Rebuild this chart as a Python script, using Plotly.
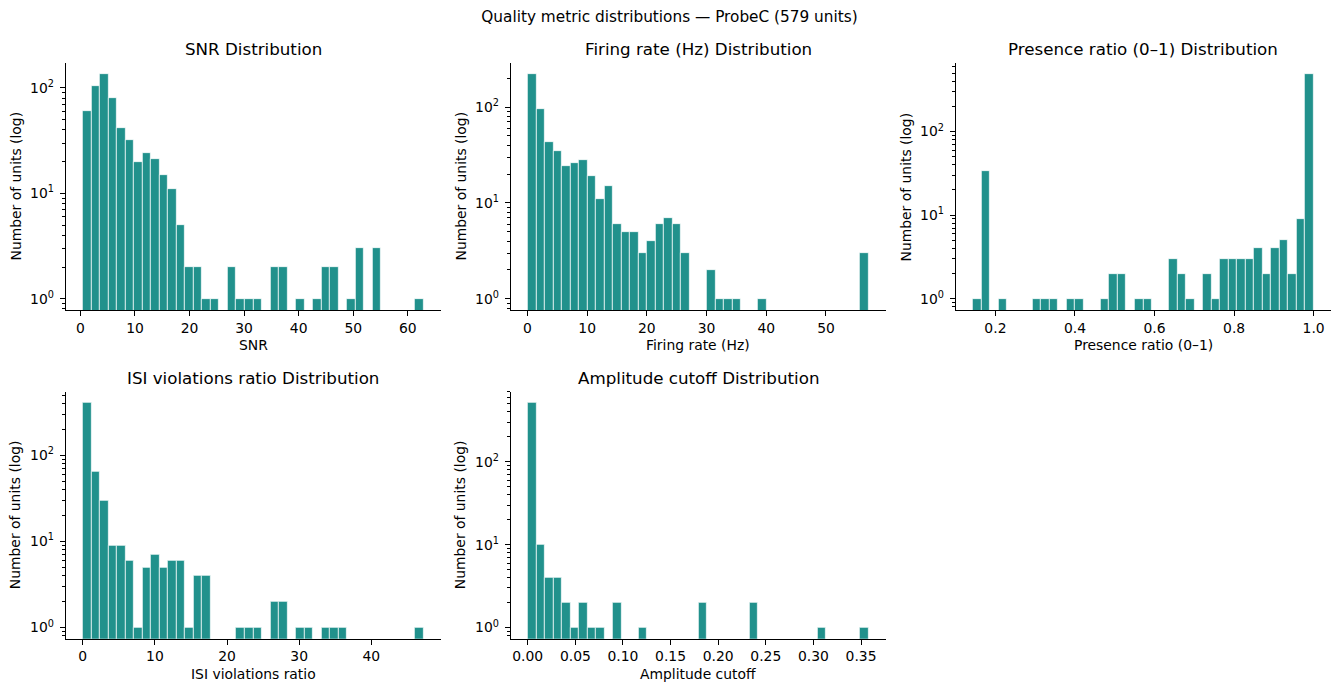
import numpy as np
import plotly.graph_objects as go

# ---------------- data ----------------
SUPTITLE = "Quality metric distributions — ProbeC (579 units)"
Y_LABEL = "Number of units (log)"

snr_label = "SNR"
snr_range = [0.43, 62.9]
snr_counts = [61, 104, 135, 80, 42, 32, 20, 24, 21, 15, 11, 5, 2, 2, 1, 1, 0, 2, 1, 1,
              1, 0, 2, 2, 0, 1, 0, 1, 2, 2, 0, 1, 3, 0, 3, 0, 0, 0, 0, 1]
snr_ticks = [0, 10, 20, 30, 40, 50, 60]

fr_label = "Firing rate (Hz)"
fr_range = [0.05, 57.15]
fr_counts = [220, 95, 43, 35, 24, 26, 28, 19, 11, 15, 6, 5, 5, 3, 4, 6, 7, 6, 3, 0,
             0, 2, 1, 1, 1, 0, 0, 1, 0, 0, 0, 0, 0, 0, 0, 0, 0, 0, 0, 3]
fr_ticks = [0, 10, 20, 30, 40, 50]

pr_label = "Presence ratio (0–1)"
pr_range = [0.143, 1.0]
pr_counts = [1, 34, 0, 1, 0, 0, 0, 1, 1, 1, 0, 1, 1, 0, 0, 1, 2, 2, 0, 1,
             1, 0, 0, 3, 2, 1, 0, 2, 1, 3, 3, 3, 3, 4, 2, 4, 5, 2, 9, 484]
pr_ticks = [0.2, 0.4, 0.6, 0.8, 1.0]

isi_label = "ISI violations ratio"
isi_range = [0.0, 47.25]
isi_counts = [408, 65, 30, 9, 9, 6, 1, 5, 7, 5, 6, 6, 1, 4, 4, 0, 0, 0, 1, 1,
              1, 0, 2, 2, 0, 1, 1, 0, 1, 1, 1, 0, 0, 0, 0, 0, 0, 0, 0, 1]
isi_ticks = [0, 10, 20, 30, 40]

amp_label = "Amplitude cutoff"
amp_range = [0.0, 0.358]
amp_counts = [514, 10, 4, 4, 2, 1, 2, 1, 1, 0, 2, 0, 0, 1, 0, 0, 0, 0, 0, 0,
              2, 0, 0, 0, 0, 0, 2, 0, 0, 0, 0, 0, 0, 0, 1, 0, 0, 0, 0, 1]
amp_ticks = [0.0, 0.05, 0.10, 0.15, 0.20, 0.25, 0.30, 0.35]

panels = [
    (snr_label, snr_range, snr_counts, snr_ticks, None),
    (fr_label, fr_range, fr_counts, fr_ticks, None),
    (pr_label, pr_range, pr_counts, pr_ticks, ".1f"),
    (isi_label, isi_range, isi_counts, isi_ticks, None),
    (amp_label, amp_range, amp_counts, amp_ticks, ".2f"),
]

# ---------------- layout ----------------
W, H = 1339, 691
COL_LEFT = [65.7, 510.7, 955.7]
AX_W = 375.0
ROW_TOP = [63.0, 391.7]
AX_H = 247.0
BAR_COLOR = "#21918c"
FONT = "DejaVu Sans"
TICK_SIZE = 13.9
TITLE_SIZE = 16.7
SUPTITLE_SIZE = 15.3

fig = go.Figure()
annotations = []

for i, (label, rng, counts, ticks, fmt) in enumerate(panels):
    r, c = divmod(i, 3)
    n = i + 1
    xname = "xaxis" if n == 1 else f"xaxis{n}"
    yname = "yaxis" if n == 1 else f"yaxis{n}"
    xref = "x" if n == 1 else f"x{n}"
    yref = "y" if n == 1 else f"y{n}"

    counts = np.asarray(counts, dtype=float)
    edges = np.linspace(rng[0], rng[1], len(counts) + 1)
    centers = (edges[:-1] + edges[1:]) / 2
    bw = edges[1] - edges[0]
    yvals = [v if v > 0 else None for v in counts]

    fig.add_trace(go.Bar(
        x=centers, y=yvals, width=bw,
        marker=dict(color=BAR_COLOR, line=dict(color="white", width=0.7)),
        xaxis=xref, yaxis=yref, showlegend=False,
        hovertemplate=label + ": %{x}<br>units: %{y}<extra></extra>",
    ))

    left = COL_LEFT[c]
    top = ROW_TOP[r]
    bottom = top + AX_H
    xdom = [left / W, (left + AX_W) / W]
    ydom = [1 - bottom / H, 1 - top / H]

    span = rng[1] - rng[0]
    xrange = [rng[0] - 0.05 * span, rng[1] + 0.05 * span]

    cmax = counts.max()
    lmax = np.log10(cmax)
    yrange = [-0.05 * lmax, lmax + 0.05 * lmax]
    majors = [10 ** k for k in range(0, int(np.floor(yrange[1])) + 1)]
    minors = []
    for k in range(-1, int(np.floor(yrange[1])) + 1):
        for m in range(2, 10):
            v = m * 10 ** k
            if yrange[0] <= np.log10(v) <= yrange[1]:
                minors.append(v)

    axis_common = dict(
        showline=True, linecolor="black", linewidth=1.1,
        ticks="outside", ticklen=4.9, tickwidth=1.1, tickcolor="black",
        showgrid=False, zeroline=False, mirror=False,
        tickfont=dict(family=FONT, size=TICK_SIZE, color="black"),
    )
    fig.layout[xname] = dict(
        domain=xdom, anchor=yref, range=xrange,
        tickmode="array", tickvals=ticks,
        tickformat=fmt if fmt else None,
        ticklabelstandoff=0,
        **axis_common,
    )
    fig.layout[yname] = dict(
        domain=ydom, anchor=xref, type="log", range=yrange,
        tickmode="array", tickvals=majors,
        ticktext=[f"10<sup>{k}</sup>" for k in range(len(majors))],
        ticklabelstandoff=3,
        minor=dict(tickmode="array", tickvals=minors, ticks="outside",
                   ticklen=2.8, tickwidth=0.8, tickcolor="black", showgrid=False),
        **axis_common,
    )

    cx = (left + AX_W / 2) / W
    # subplot title
    annotations.append(dict(
        text=f"{label} Distribution", x=cx, y=1 - (top - 13.5) / H,
        xref="paper", yref="paper", xanchor="center", yanchor="middle",
        showarrow=False, font=dict(family=FONT, size=TITLE_SIZE, color="black"),
    ))
    # x label
    annotations.append(dict(
        text=label, x=cx, y=1 - (bottom + 35) / H,
        xref="paper", yref="paper", xanchor="center", yanchor="middle",
        showarrow=False, font=dict(family=FONT, size=TICK_SIZE, color="black"),
    ))
    # y label
    annotations.append(dict(
        text=Y_LABEL, x=(left - 50.7) / W, y=1 - (top + AX_H / 2) / H,
        xref="paper", yref="paper", xanchor="center", yanchor="middle",
        textangle=-90, showarrow=False,
        font=dict(family=FONT, size=TICK_SIZE, color="black"),
    ))

fig.update_layout(
    width=W, height=H,
    margin=dict(l=0, r=0, t=0, b=0),
    paper_bgcolor="white", plot_bgcolor="white",
    font=dict(family=FONT, color="black"),
    title=dict(text=SUPTITLE, x=0.5, xanchor="center", y=1 - 16.7 / H,
               yanchor="middle", font=dict(family=FONT, size=SUPTITLE_SIZE, color="black")),
    annotations=annotations,
    bargap=0,
)

fig.write_html("out.html")
